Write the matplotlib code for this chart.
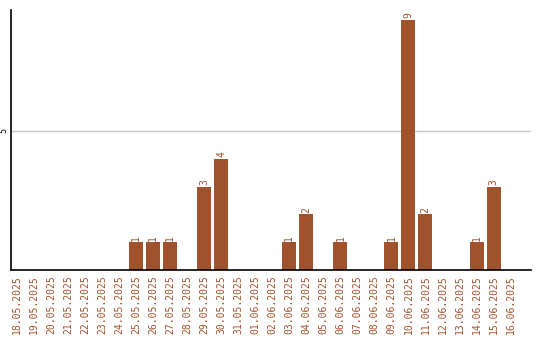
import matplotlib
matplotlib.use("Agg")
import matplotlib.pyplot as plt
import numpy as np

dates = ["18.05.2025", "19.05.2025", "20.05.2025", "21.05.2025", "22.05.2025",
         "23.05.2025", "24.05.2025", "25.05.2025", "26.05.2025", "27.05.2025",
         "28.05.2025", "29.05.2025", "30.05.2025", "31.05.2025", "01.06.2025",
         "02.06.2025", "03.06.2025", "04.06.2025", "05.06.2025", "06.06.2025",
         "07.06.2025", "08.06.2025", "09.06.2025", "10.06.2025", "11.06.2025",
         "12.06.2025", "13.06.2025", "14.06.2025", "15.06.2025", "16.06.2025"]
counts = [0, 0, 0, 0, 0, 0, 0, 1, 1, 1,
          0, 3, 4, 0, 0, 0, 1, 2, 0, 1,
          0, 0, 1, 9, 2, 0, 0, 1, 3, 0]

brown = "#A0522D"
font = "DejaVu Sans Mono"

fig = plt.figure(figsize=(5.4, 3.4), dpi=100)
ax = fig.add_axes([11/540, 70/340, 520/540, 260/340])

x = np.arange(len(dates))
ax.bar(x, counts, width=0.82, color=brown, zorder=2)
for xi, c in zip(x, counts):
    if c > 0:
        ax.text(xi, c + 0.05, str(c), rotation=90, ha="center", va="bottom",
                color=brown, fontsize=7, family=font)

ax.axhline(5, color="#c8c8c8", lw=1, zorder=1)
ax.set_xlim(-0.35, 30.2)
ax.set_ylim(0, 9.35)
ax.set_xticks(x)
ax.set_xticklabels(dates, rotation=90, color=brown, fontsize=7, family=font)
ax.set_yticks([5])
ax.set_yticklabels(["5"], rotation=90, va="center", fontsize=6, family=font)
ax.tick_params(length=0, pad=4)
ax.tick_params(axis="y", pad=2)
for s in ["top", "right"]:
    ax.spines[s].set_visible(False)
for s in ["left", "bottom"]:
    ax.spines[s].set_linewidth(1.2)

fig.savefig("out.png", dpi=100)
